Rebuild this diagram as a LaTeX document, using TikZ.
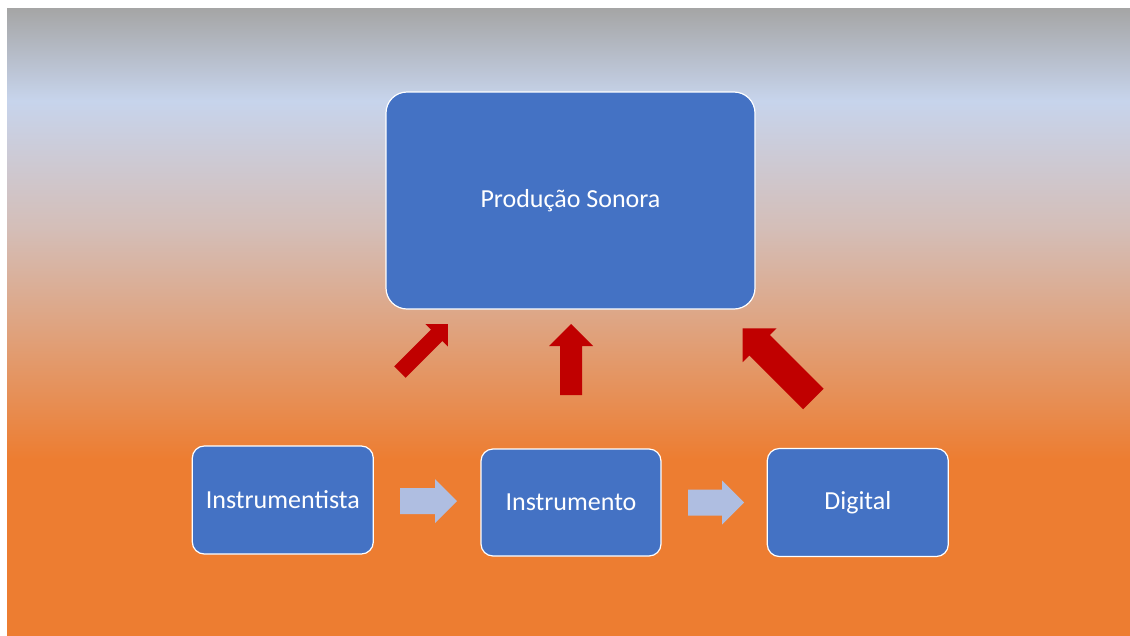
\documentclass[tikz,border=0pt]{standalone}
\usepackage{fontspec}
\setmainfont{Carlito}
\usetikzlibrary{calc}
\definecolor{bgA}{HTML}{A5A5A5}
\definecolor{bgB}{HTML}{C7D4EC}
\definecolor{bgC}{HTML}{D4BEB8}
\definecolor{bgD}{HTML}{DFA37F}
\definecolor{bgE}{HTML}{ED7D31}
\definecolor{boxblue}{HTML}{4472C4}
\definecolor{lightarrow}{RGB}{175,190,225}
\definecolor{redarrow}{HTML}{C00000}
\pgfdeclareverticalshading{bgshade}{100bp}{%
  color(0bp)=(bgE); color(25bp)=(bgE); color(39bp)=(bgE);
  color(49.5bp)=(bgD); color(57.5bp)=(bgC); color(67.6bp)=(bgB);
  color(75bp)=(bgA); color(100bp)=(bgA)}
% block arrow: #1 tail coordinate name, #2 angle, #3 length, #4 half shaft, #5 half head, #6 head length, #7 colour
\newcommand{\blockarrow}[7]{%
  \fill[#7, shift={(#1)}, rotate=#2]
    (0,-#4) -- ({#3-#6},-#4) -- ({#3-#6},-#5) -- (#3,0)
    -- ({#3-#6},#5) -- ({#3-#6},#4) -- (0,#4) -- cycle;}
\tikzset{
  box/.style={draw=white, line width=1.2pt, fill=boxblue, text=white,
    font=\fontsize{26}{31}\selectfont, inner sep=0pt, align=center},
}
\begin{document}
\begin{tikzpicture}[x=1pt, y=-1pt]
\useasboundingbox (0,0) rectangle (1130,635);
\fill[white] (0,0) rectangle (1130,635);
\shade[shading=bgshade] (7,8) rectangle (1130,635);

\node[box, rounded corners=21pt, minimum width=369pt, minimum height=217pt] (ps) at (570.5,200.5) {Produção Sonora};
\node[box, rounded corners=12pt, minimum width=181pt, minimum height=108pt] (ist) at (282.8,500) {Instrumentista};
\node[box, rounded corners=12pt, minimum width=180pt, minimum height=107pt] (ins) at (571,502.5) {Instrumento};
\node[box, rounded corners=12pt, minimum width=181pt, minimum height=108pt] (dig) at (857.8,502.5) {Digital};

\coordinate (t1) at (400,501);
\coordinate (t2) at (688,502.5);
\coordinate (t3) at (571,395);
\coordinate (t4) at (399.9,372.1);
\coordinate (t5) at (813.4,399);

\blockarrow{t1}{0}{57}{13}{22}{22}{lightarrow}
\blockarrow{t2}{0}{56}{13}{22}{22}{lightarrow}
\blockarrow{t3}{90}{71}{11}{22}{22}{redarrow}
\blockarrow{t4}{45}{68}{8}{16}{16}{redarrow}
\blockarrow{t5}{135}{100}{14.5}{24}{24}{redarrow}
\end{tikzpicture}
\end{document}
